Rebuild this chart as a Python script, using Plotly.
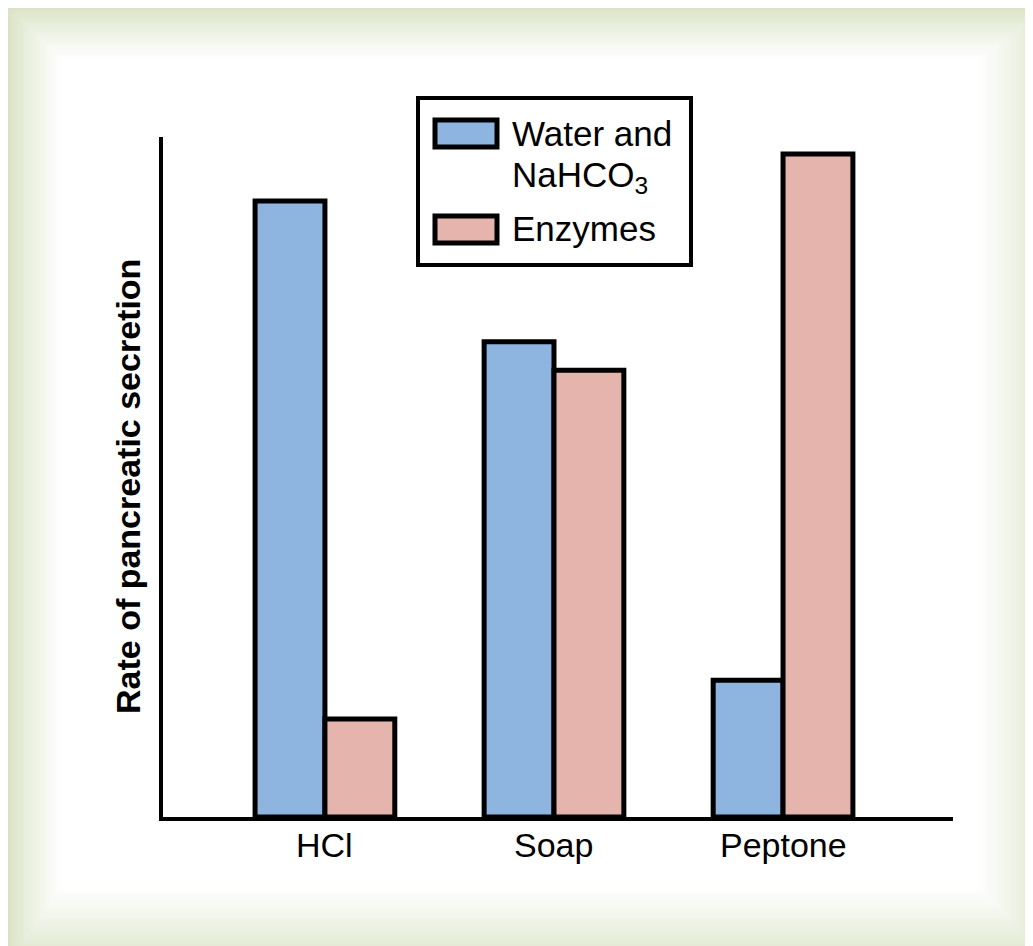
import plotly.graph_objects as go

# ── Data ──────────────────────────────────────────────────────────────────────
STIMULI = ["HCl", "Soap", "Peptone"]
WATER_BICARB = [90.6, 69.9, 20.1]
ENZYMES = [14.4, 65.7, 97.5]

BLUE = "#8db5e0"
PINK = "#e5b4ac"
FONT = "Arial, Liberation Sans, sans-serif"

W, H = 1033, 946
OFF = 8  # margen del body de la página
# posiciones en pantalla del área de trazado
SX0, SX1, SY0, SY1 = 163, 953, 137, 817
L, T = SX0 - OFF, SY0 - OFF
R, B = W - (SX1 - OFF), H - (SY1 - OFF)
PW, PH = SX1 - SX0, SY1 - SY0


def px_x(p):
    return (p - SX0) / PW


def px_y(p):
    return (SY1 - p) / PH


fig = go.Figure()
fig.add_bar(x=STIMULI, y=WATER_BICARB, name="Water and NaHCO3",
            marker=dict(color=BLUE, line=dict(color="black", width=5)))
fig.add_bar(x=STIMULI, y=ENZYMES, name="Enzymes",
            marker=dict(color=PINK, line=dict(color="black", width=5)))

# ── Marco con degradado verde ─────────────────────────────────────────────────
shapes = []
steps = 28
outer = (6, 5, W + 20, H + 20)
inner = (60, 58, 980, 888)
c0 = (214, 224, 192)
c1 = (255, 255, 255)
for i in range(steps + 1):
    f = i / steps
    x0 = outer[0] + (inner[0] - outer[0]) * f
    y0 = outer[1] + (inner[1] - outer[1]) * f
    x1 = outer[2] + (inner[2] - outer[2]) * f
    y1 = outer[3] + (inner[3] - outer[3]) * f
    if i < 2:
        x1, y1 = W + 20, H + 20
    g = f ** 0.8
    col = tuple(round(a + (b - a) * g) for a, b in zip(c0, c1))
    shapes.append(dict(type="rect", xref="paper", yref="paper", layer="below",
                       x0=px_x(x0), x1=px_x(x1), y0=px_y(y1), y1=px_y(y0),
                       fillcolor="rgb(%d,%d,%d)" % col, line_width=0))

# ── Leyenda manual ────────────────────────────────────────────────────────────
shapes.append(dict(type="rect", xref="paper", yref="paper",
                   x0=px_x(418), x1=px_x(691), y0=px_y(265), y1=px_y(98),
                   fillcolor="white", line=dict(color="black", width=4)))
for (ty, by), col in [((120, 147), BLUE), ((216, 243), PINK)]:
    shapes.append(dict(type="rect", xref="paper", yref="paper",
                       x0=px_x(435), x1=px_x(497), y0=px_y(by), y1=px_y(ty),
                       fillcolor=col, line=dict(color="black", width=5)))

leg_font = dict(family=FONT, size=35, color="black")
annotations = [
    dict(text="Water and", xref="paper", yref="paper",
         x=px_x(510), y=px_y(133), xanchor="left", yanchor="middle",
         showarrow=False, font=leg_font),
    dict(text="NaHCO<sub>3</sub>", xref="paper", yref="paper",
         x=px_x(510), y=px_y(153), xanchor="left", yanchor="top",
         showarrow=False, font=leg_font),
    dict(text="Enzymes", xref="paper", yref="paper",
         x=px_x(510), y=px_y(229), xanchor="left", yanchor="middle",
         showarrow=False, font=leg_font),
    dict(text="<b>Rate of pancreatic secretion</b>", xref="paper", yref="paper",
         x=px_x(128), y=px_y(487), xanchor="center", yanchor="middle",
         textangle=-90, showarrow=False,
         font=dict(family=FONT, size=34, color="black")),
]
# etiquetas del eje x
for cat in STIMULI:
    annotations.append(dict(text=cat, xref="x", yref="paper", x=cat,
                            y=px_y(845), xanchor="center", yanchor="middle",
                            showarrow=False,
                            font=dict(family=FONT, size=34, color="black")))

fig.update_layout(
    width=W, height=H,
    margin=dict(l=L, r=R, t=T, b=B),
    paper_bgcolor="white",
    plot_bgcolor="rgba(0,0,0,0)",
    barmode="group",
    bargap=0.39,
    bargroupgap=0,
    showlegend=False,
    shapes=shapes,
    annotations=annotations,
    font=dict(family=FONT, color="black"),
)
fig.update_xaxes(range=[-0.707, 2.742], showline=True, linecolor="black",
                 linewidth=4, ticks="", showgrid=False, showticklabels=False)
fig.update_yaxes(range=[0, 100], showline=True, linecolor="black",
                 linewidth=4, ticks="", showgrid=False, zeroline=False,
                 showticklabels=False)

fig.write_html("out.html")
